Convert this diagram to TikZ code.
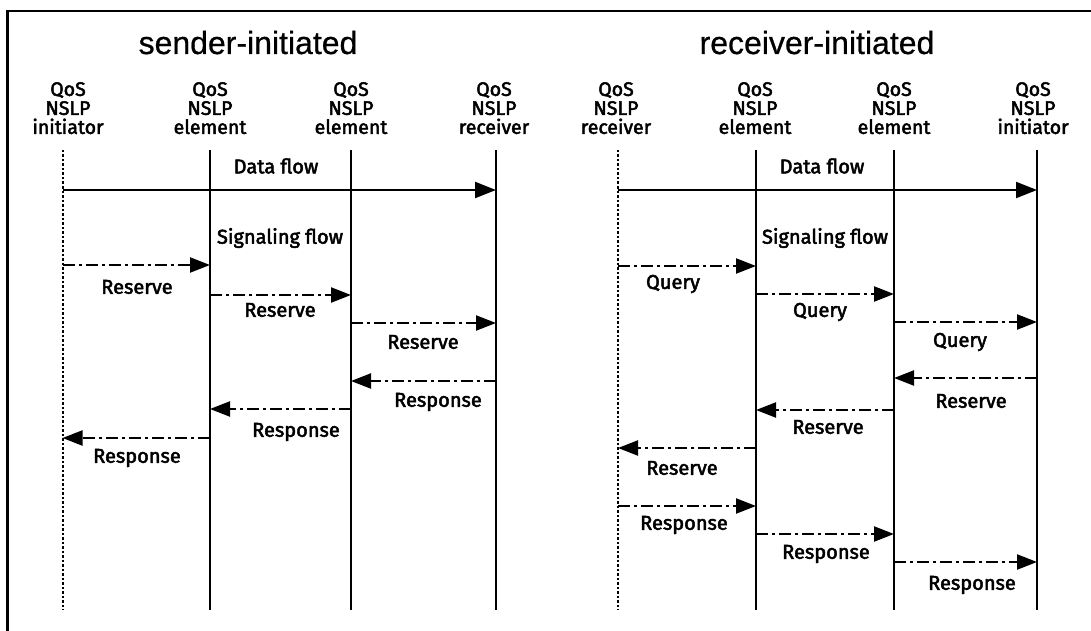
\documentclass[tikz,border=0pt]{standalone}
\usepackage{fontspec}
\setmainfont[FakeBold=0.6]{Liberation Sans}
\newfontfamily\labfont[FakeBold=2.4]{Fira Sans}
\usetikzlibrary{arrows.meta}

\begin{document}
\begin{tikzpicture}[x=1pt, y=-1pt,
  titletext/.style={font=\fontsize{32}{36}\selectfont, anchor=base, inner sep=0pt},
  head/.style={font=\labfont\fontsize{19.5}{19}\selectfont, align=center, anchor=north, inner sep=0pt},
  lab/.style={font=\labfont\fontsize{20}{22}\selectfont, inner sep=0pt},
  life/.style={line width=2.2pt},
  lifedot/.style={line width=2pt, dash pattern=on 2.5pt off 2pt},
  dataflow/.style={line width=2.2pt, -{Triangle[length=21pt,width=16pt]}},
  sig/.style={line width=2.2pt, dash pattern=on 12pt off 4pt on 3pt off 4pt,
              -{Triangle[length=20pt,width=15pt]}},
]
\useasboundingbox (0,0) rectangle (1091,631);
\fill[white] (0,0) rectangle (1091,631);

% frame
\draw[line width=2.2pt] (7.5,631) -- (7.5,11) -- (1091,11);

% titles
\node[titletext] (tS) at (248,54) {sender-initiated};
\node[titletext] (tR) at (817,54) {receiver-initiated};

% lifeline tops and bottoms
\foreach \n/\x in {L1/62.5, L2/210, L3/351, L4/496, R1/618, R2/756, R3/894, R4/1037} {
  \coordinate (\n) at (\x,150);
  \coordinate (\n b) at (\x,610);
}

% column headers
\node[head] (hL1) at (68,82)  {QoS\\NSLP\\initiator};
\node[head] (hL2) at (210,82) {QoS\\NSLP\\element};
\node[head] (hL3) at (351,82) {QoS\\NSLP\\element};
\node[head] (hL4) at (494,82) {QoS\\NSLP\\receiver};
\node[head] (hR1) at (616,82) {QoS\\NSLP\\receiver};
\node[head] (hR2) at (755,82) {QoS\\NSLP\\element};
\node[head] (hR3) at (894,82) {QoS\\NSLP\\element};
\node[head] (hR4) at (1033,82) {QoS\\NSLP\\initiator};

% lifelines
\draw[lifedot] (L1) -- (L1b);
\draw[lifedot] (R1) -- (R1b);
\foreach \n in {L2,L3,L4,R2,R3,R4} \draw[life] (\n) -- (\n b);

% data flow
\draw[dataflow] (L1 |- 0,190) -- (L4 |- 0,190);
\draw[dataflow] (R1 |- 0,190) -- (R4 |- 0,190);
\node[lab] (dfL) at (276,166) {Data flow};
\node[lab] (dfR) at (822,166) {Data flow};
\node[lab] (sfL) at (280,238) {Signaling flow};
\node[lab] (sfR) at (825,238) {Signaling flow};

% sender-initiated messages
\foreach \a/\b/\y/\t/\lx/\ly in {
  L1/L2/265/Reserve/137/287,
  L2/L3/295/Reserve/280/310,
  L3/L4/323/Reserve/423/342,
  L4/L3/381/Response/438/402,
  L3/L2/409/Response/296/432,
  L2/L1/438/Response/137/458} {
  \draw[sig] (\a |- 0,\y) -- (\b |- 0,\y);
  \node[lab] at (\lx,\ly) {\t};
}

% receiver-initiated messages
\foreach \a/\b/\y/\t/\lx/\ly in {
  R1/R2/266/Query/673/284,
  R2/R3/294/Query/820/312,
  R3/R4/322/Query/960/342,
  R4/R3/378/Reserve/971/401,
  R3/R2/410/Reserve/828/427,
  R2/R1/448/Reserve/682/468,
  R1/R2/506/Response/684/525,
  R2/R3/534/Response/826/554,
  R3/R4/562/Response/972/585} {
  \draw[sig] (\a |- 0,\y) -- (\b |- 0,\y);
  \node[lab] at (\lx,\ly) {\t};
}
\end{tikzpicture}
\end{document}
